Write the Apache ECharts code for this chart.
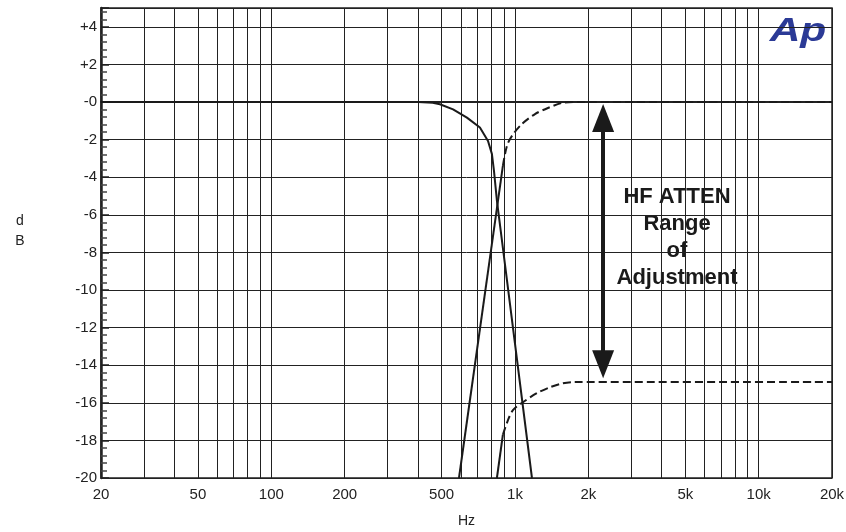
<!DOCTYPE html>
<html>
<head>
<meta charset="utf-8">
<title>HF ATTEN</title>
<script src="https://cdn.jsdelivr.net/npm/echarts@6/dist/echarts.min.js"></script>
<style>
  html, body { margin: 0; padding: 0; background: #fff; }
  #main { width: 846px; height: 532px; }
</style>
</head>
<body>
<div id="main"></div>
<script>
// grid lines / labels on the frequency axis (Hz)
const gridFreqs = [20, 30, 40, 50, 60, 70, 80, 90, 100,
  200, 300, 400, 500, 600, 700, 800, 900, 1000,
  2000, 3000, 4000, 5000, 6000, 7000, 8000, 9000, 10000, 20000];
const labelFreqs = [20, 50, 100, 200, 500, 1000, 2000, 5000, 10000, 20000];
const labelTexts = ['20', '50', '100', '200', '500', '1k', '2k', '5k', '10k', '20k'];

// low-pass style curve (solid)
const lpFreq = [20, 400, 460, 492, 557, 635, 718, 775, 804, 820, 843, 1174];
const lpDb   = [0, 0, -0.04, -0.12, -0.39, -0.83, -1.36, -2.07, -2.76, -3.66, -5.25, -20];

// HF at 0 dB : solid rise then dashed
const hiRiseFreq = [589, 892];
const hiRiseDb   = [-20, -3.4];
const hiFreq = [892, 927, 972, 1068, 1208, 1365, 1559, 1770, 20000];
const hiDb   = [-3.4, -2.33, -1.8, -1.17, -0.64, -0.32, -0.05, 0, 0];

// HF at max attenuation : solid rise then dashed
const loRiseFreq = [843, 892];
const loRiseDb   = [-20, -17.7];
const loFreq = [892, 936, 981, 1078, 1230, 1392, 1573, 1730, 20000];
const loDb   = [-17.7, -16.92, -16.39, -15.97, -15.49, -15.17, -14.96, -14.9, -14.9];

// range arrow (head centres)
const arrowFreq = 2300;
const arrowDb = [-0.85, -13.95];

const FONT = '"Liberation Sans", Arial, sans-serif';
const lg = v => Math.log10(v);
const pts = (f, d) => f.map((x, i) => [lg(x), d[i]]);

let chart = echarts.init(document.getElementById('main'));

let option = {
  animation: false,
  backgroundColor: '#fff',
  grid: {
    left: 101, right: 14, top: 8, bottom: 54,
    outerBoundsMode: 'none',
    containLabel: false,
    show: true,
    borderColor: '#222',
    borderWidth: 1.5
  },
  xAxis: {
    type: 'value',
    min: lg(20),
    max: lg(20000),
    name: 'Hz',
    nameLocation: 'middle',
    nameGap: 36,
    nameTextStyle: { fontFamily: FONT, fontSize: 14, color: '#222' },
    axisLine: { lineStyle: { color: '#222', width: 2 } },
    axisTick: { show: false, customValues: gridFreqs.map(lg) },
    axisLabel: {
      customValues: labelFreqs.map(lg),
      margin: 9,
      fontFamily: FONT, fontSize: 15, color: '#222',
      formatter: function (v) {
        let f = Math.pow(10, v);
        let i = labelFreqs.findIndex(x => Math.abs(x - f) / x < 0.01);
        return i >= 0 ? labelTexts[i] : '';
      }
    },
    splitLine: { show: true, lineStyle: { color: '#222', width: 1 } }
  },
  yAxis: {
    type: 'value',
    min: -20,
    max: 5,
    interval: 2,
    axisLine: { show: true, lineStyle: { color: '#222', width: 2.5 } },
    axisTick: { show: true, inside: true, length: 8, lineStyle: { color: '#222', width: 1.5 } },
    minorTick: { show: true, splitNumber: 5, length: 6, lineStyle: { color: '#444', width: 1.5 } },
    axisLabel: {
      margin: 4,
      fontFamily: FONT, fontSize: 15, color: '#222',
      formatter: function (v) {
        if (v > 4) return '';
        return v > 0 ? '+' + v : '-' + Math.abs(v);
      }
    },
    splitLine: { show: true, lineStyle: { color: '#222', width: 1 } }
  },
  series: [
    {
      type: 'line', data: pts(lpFreq, lpDb), showSymbol: false, smooth: false,
      lineStyle: { color: '#1a1a1a', width: 2 }
    },
    {
      type: 'line', data: pts(hiRiseFreq, hiRiseDb), showSymbol: false,
      lineStyle: { color: '#1a1a1a', width: 2 }
    },
    {
      type: 'line', data: pts(hiFreq, hiDb), showSymbol: false, smooth: 0.3,
      lineStyle: { color: '#1a1a1a', width: 2, type: [8, 4] },
      markLine: {
        silent: true,
        symbol: ['triangle', 'triangle'],
        symbolSize: [22, 28],
        label: { show: false },
        lineStyle: { color: '#1a1a1a', width: 4, type: 'solid' },
        data: [[{ coord: [lg(arrowFreq), arrowDb[0]] }, { coord: [lg(arrowFreq), arrowDb[1]] }]]
      }
    },
    {
      type: 'line', data: pts(loRiseFreq, loRiseDb), showSymbol: false,
      lineStyle: { color: '#1a1a1a', width: 2 }
    },
    {
      type: 'line', data: pts(loFreq, loDb), showSymbol: false, smooth: 0.3,
      lineStyle: { color: '#1a1a1a', width: 2, type: [8, 4] }
    }
  ],
  graphic: [
    {
      // y axis name
      type: 'text', x: 20, y: 231,
      style: {
        text: 'd\nB',
        align: 'center',
        verticalAlign: 'middle',
        font: '14px ' + FONT,
        lineHeight: 20,
        fill: '#222'
      }
    },
    {
      type: 'text', x: 677, y: 183,
      style: {
        text: 'HF ATTEN\nRange\nof\nAdjustment',
        align: 'center',
        verticalAlign: 'top',
        font: 'bold 22px ' + FONT,
        lineHeight: 27,
        fill: '#1a1a1a'
      }
    },
    {
      // logo
      type: 'text', x: 798, y: 32, scaleX: 1.25,
      style: {
        text: 'Ap',
        align: 'center',
        verticalAlign: 'middle',
        font: 'italic bold 34px ' + FONT,
        fill: '#2b3a96'
      }
    }
  ]
};

chart.setOption(option);
</script>
</body>
</html>
